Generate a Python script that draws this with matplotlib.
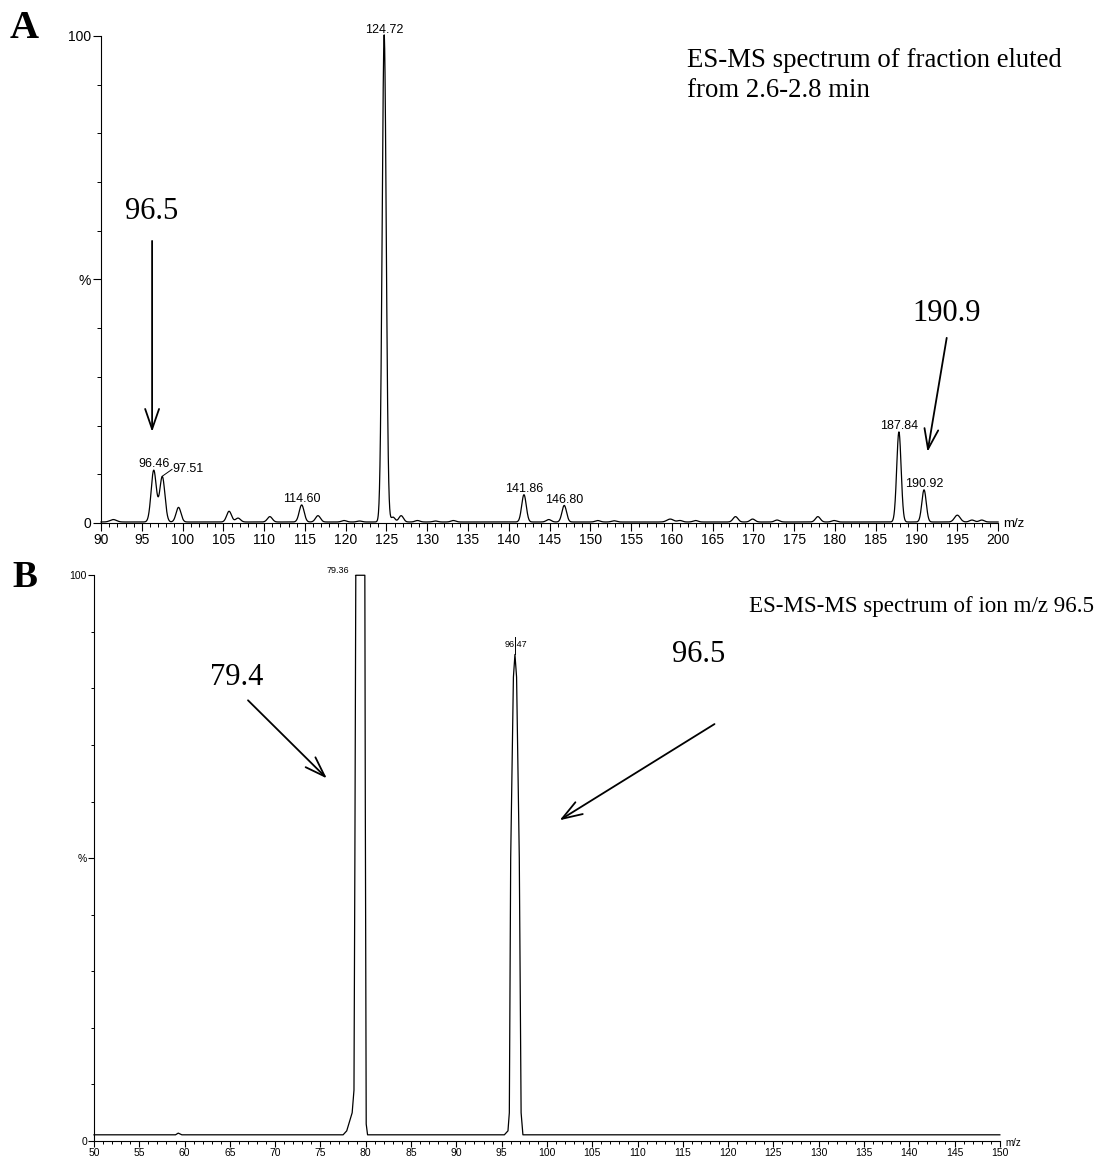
import numpy as np
import matplotlib
matplotlib.use("Agg")
import matplotlib.pyplot as plt
from matplotlib.ticker import MultipleLocator, FixedLocator

# ---------------------------------------------------------------------------
# panel A: ES-MS of fraction 2.6-2.8 min, peaks
# (centre m/z, height in %, gaussian width in m/z)
# ---------------------------------------------------------------------------
A_MZ = [91.5, 96.46, 97.51, 99.5, 105.7, 106.8, 110.7, 114.6, 116.6, 119.8,
        121.7, 124.72, 125.8, 126.8, 128.8, 131.0, 133.2, 141.86, 144.9,
        146.8, 150.9, 152.9, 159.8, 161.0, 162.9, 167.8, 169.9, 172.9,
        177.9, 179.9, 187.84, 190.92, 195.0, 196.8, 198.0]
A_HEIGHT = [0.5, 10.6, 9.3, 3.0, 2.2, 0.8, 1.1, 3.5, 1.3, 0.3,
            0.2, 100.0, 1.0, 1.3, 0.3, 0.2, 0.3, 5.6, 0.5,
            3.4, 0.3, 0.25, 0.6, 0.3, 0.3, 1.1, 0.6, 0.4,
            1.1, 0.3, 18.5, 6.6, 1.4, 0.4, 0.4]
A_WIDTH = [0.4, 0.32, 0.32, 0.3, 0.3, 0.3, 0.3, 0.3, 0.3, 0.3,
           0.3, 0.25, 0.25, 0.28, 0.3, 0.3, 0.3, 0.28, 0.3,
           0.28, 0.3, 0.3, 0.4, 0.3, 0.3, 0.3, 0.3, 0.3,
           0.3, 0.3, 0.27, 0.27, 0.35, 0.3, 0.3]
A_BASE = 0.2
A_LABEL_MZ = [96.46, 114.60, 124.72, 141.86, 146.80, 187.84, 190.92]
A_LABEL_Y = [10.8, 3.6, 100.0, 5.7, 3.5, 18.6, 6.8]

# panel B: ES-MS-MS of m/z 96.5, trace vertices (m/z, %)
B_MZ = [50.0, 59.0, 59.3, 59.7, 77.5, 77.9, 78.5, 78.7, 78.8, 78.9, 79.9,
        79.95, 80.05, 80.2, 95.3, 95.7, 95.85, 96.0, 96.3, 96.47, 96.65,
        96.95, 97.15, 97.35, 150.0]
B_INT = [1.1, 1.1, 1.4, 1.1, 1.1, 1.8, 5.0, 9.0, 50.0, 100.0, 100.0,
         60.0, 3.0, 1.1, 1.1, 1.8, 5.0, 50.0, 82.0, 86.0, 82.0,
         50.0, 5.0, 1.1, 1.1]

SERIF = "Liberation Serif"
SANS = "Liberation Sans"


def style_axis(ax, xlim, xmajor, ticksize, ticklen):
    ax.set_xlim(*xlim)
    ax.set_ylim(0, 100)
    for side in ("top", "right"):
        ax.spines[side].set_visible(False)
    for side in ("left", "bottom"):
        ax.spines[side].set_linewidth(0.8)
    ax.xaxis.set_major_locator(MultipleLocator(xmajor))
    ax.xaxis.set_minor_locator(MultipleLocator(1))
    ax.yaxis.set_major_locator(FixedLocator([0, 50, 100]))
    ax.yaxis.set_minor_locator(MultipleLocator(10))
    ax.set_yticklabels(["0", "%", "100"])
    ax.tick_params(which="major", direction="out", length=ticklen, width=0.8,
                   labelsize=ticksize, pad=1)
    ax.tick_params(which="minor", direction="out", length=ticklen * 0.5,
                   width=0.7)
    for lab in ax.get_xticklabels() + ax.get_yticklabels():
        lab.set_fontfamily(SANS)
    ax.text(1.006, -0.003, "m/z", transform=ax.transAxes, ha="left",
            va="center", fontsize=ticksize - 0.5, family=SANS)


def arrow(ax, start, tip):
    ax.annotate("", xy=tip, xytext=start,
                arrowprops=dict(arrowstyle="->,head_length=1.45,head_width=0.5",
                                lw=1.3, color="black", shrinkA=0, shrinkB=0,
                                mutation_scale=10))


fig = plt.figure(figsize=(11.02, 11.57), dpi=100)

# ---- panel A --------------------------------------------------------------
axA = fig.add_axes([0.0917, 0.548, 0.814, 0.421])
xa = np.linspace(90, 200, 5501)
ya = np.full_like(xa, A_BASE)
for c, h, w in zip(A_MZ, A_HEIGHT, A_WIDTH):
    ya += h * np.exp(-0.5 * ((xa - c) / w) ** 2)
axA.plot(xa, ya, color="black", lw=0.9, clip_on=False)
style_axis(axA, (90, 200), 5, 10, 6)

for mz, yv in zip(A_LABEL_MZ, A_LABEL_Y):
    axA.text(mz, yv, f"{mz:.2f}", ha="center", va="bottom", fontsize=9,
             family=SANS)
# 97.51 label sits to the right, joined by a leader
axA.plot([97.51, 98.7], [9.6, 11.0], color="black", lw=0.7)
axA.text(98.7, 9.9, "97.51", ha="left", va="bottom", fontsize=9, family=SANS)

axA.text(96.26, 63.9, "96.5", ha="center", va="center", fontsize=22,
         family=SERIF)
arrow(axA, (96.26, 57.9), (96.26, 18.7))
axA.text(193.7, 43.1, "190.9", ha="center", va="center", fontsize=22,
         family=SERIF)
arrow(axA, (193.7, 38.0), (191.35, 14.6))

fig.text(0.623, 1 - 67 / 1157, "ES-MS spectrum of fraction eluted",
         ha="left", va="baseline", fontsize=19.3, family=SERIF)
fig.text(0.623, 1 - 97 / 1157, "from 2.6-2.8 min",
         ha="left", va="baseline", fontsize=19.3, family=SERIF)
fig.text(0.009, 0.967, "A", fontsize=29, weight="bold", family=SERIF,
         va="baseline")

# ---- panel B --------------------------------------------------------------
axB = fig.add_axes([0.0853, 0.0138, 0.822, 0.489])
axB.plot(B_MZ, B_INT, color="black", lw=0.9, clip_on=False)
style_axis(axB, (50, 150), 5, 7.5, 4)

axB.plot([78.2, 78.9], [100.8, 100.0], color="black", lw=0.7)
axB.text(78.2, 100.8, "79.36", ha="right", va="center", fontsize=6.5,
         family=SANS)
axB.text(96.6, 87.0, "96.47", ha="center", va="bottom", fontsize=6.5,
         family=SANS)
axB.plot([96.47, 96.47], [86.0, 89.0], color="black", lw=0.7)

axB.text(65.7, 82.0, "79.4", ha="center", va="center", fontsize=22,
         family=SERIF)
arrow(axB, (67.0, 77.9), (75.7, 64.1))
axB.text(116.8, 86.0, "96.5", ha="center", va="center", fontsize=22,
         family=SERIF)
arrow(axB, (118.5, 73.7), (101.4, 56.7))

fig.text(0.680, 0.471, "ES-MS-MS spectrum of ion m/z 96.5", ha="left",
         va="baseline", fontsize=16.6, family=SERIF)
fig.text(0.011, 0.493, "B", fontsize=27, weight="bold", family=SERIF,
         va="baseline")

fig.savefig("out.png", dpi=100)
